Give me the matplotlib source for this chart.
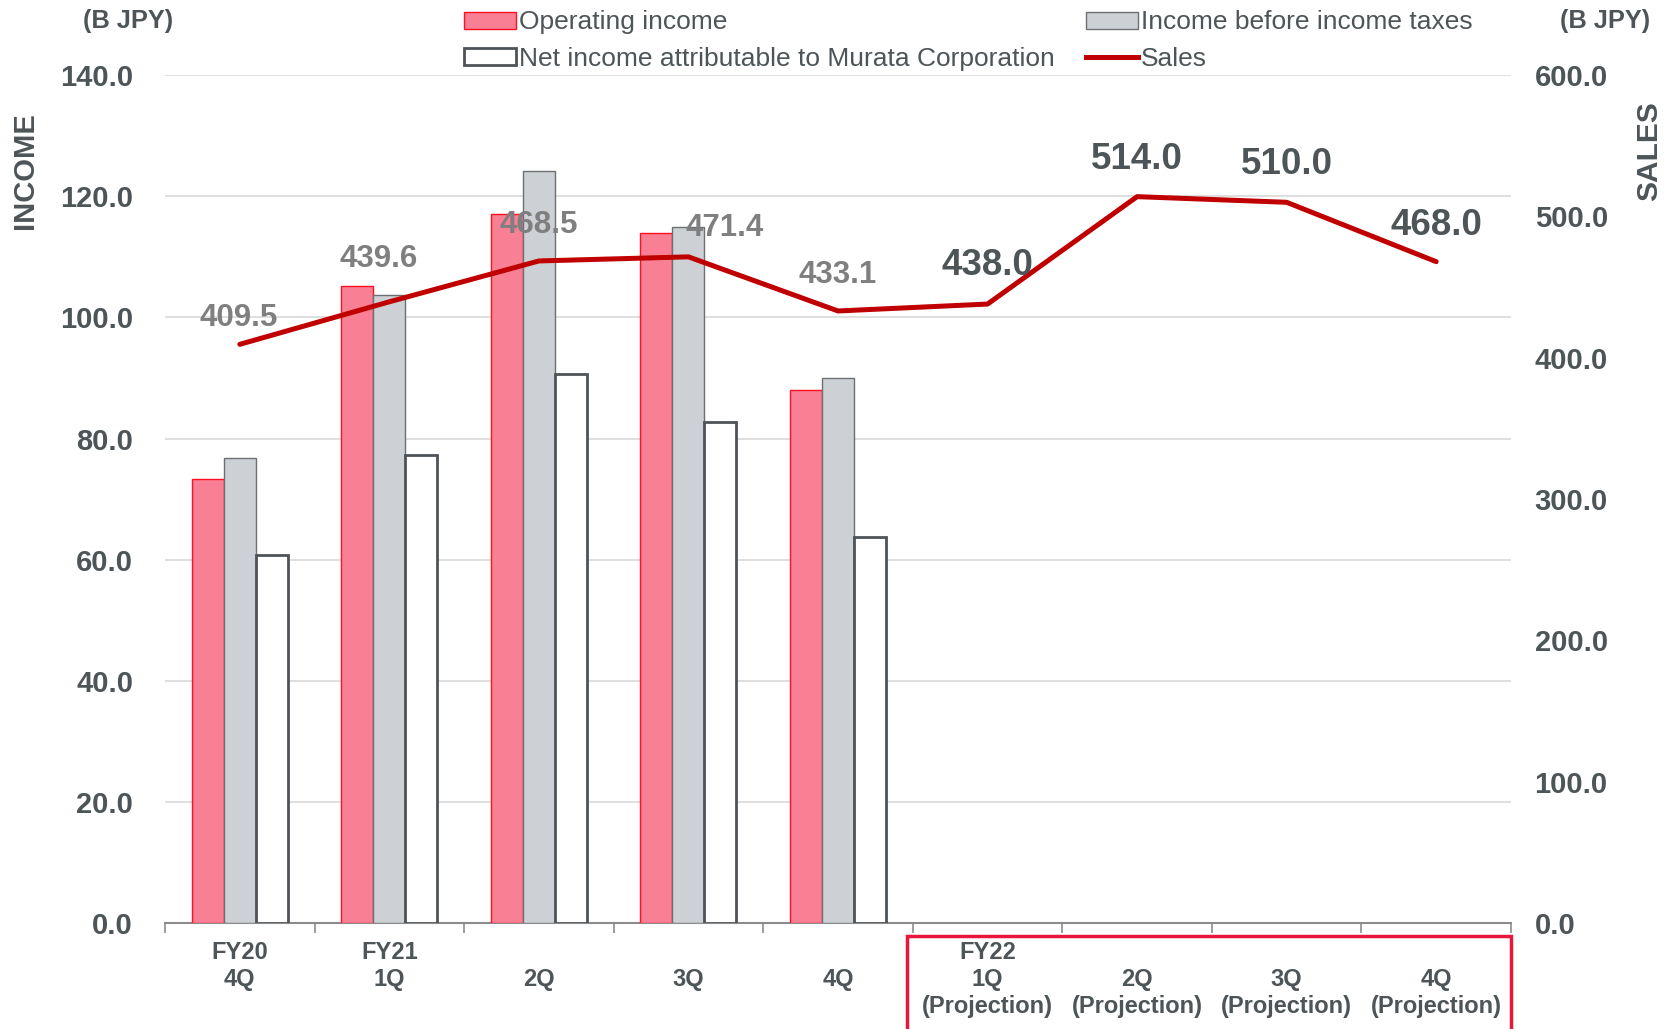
import matplotlib
matplotlib.use("Agg")
import matplotlib.pyplot as plt
import numpy as np
from matplotlib.patches import Rectangle
from matplotlib.lines import Line2D
from matplotlib.transforms import blended_transform_factory

plt.rcParams['font.family'] = ['Liberation Sans', 'DejaVu Sans']

# data
categories = ["FY20\n4Q", "FY21\n1Q", "\n2Q", "\n3Q", "\n4Q",
              "FY22\n1Q\n(Projection)", "\n2Q\n(Projection)",
              "\n3Q\n(Projection)", "\n4Q\n(Projection)"]
operating_income = [73.3, 105.1, 117.1, 113.9, 88.0]
income_before_tax = [76.8, 103.7, 124.1, 115.0, 90.0]
net_income = [60.8, 77.3, 90.7, 82.8, 63.7]
sales = [409.5, 439.6, 468.5, 471.4, 433.1, 438.0, 514.0, 510.0, 468.0]
n_actual = 5

TXT = '#4D5558'
fig = plt.figure(figsize=(16.74, 10.29), dpi=100)
ax = fig.add_axes([0.0986, 0.103, 0.8040, 0.824])
ax2 = ax.twinx()

x = np.arange(len(categories))
xa = np.arange(len(operating_income))
w = 0.214

ax.bar(xa - w, operating_income, w, color='#F98094', edgecolor='#FF1020', linewidth=1.0, zorder=3)
ax.bar(xa, income_before_tax, w, color='#CDD1D5', edgecolor='#6B7075', linewidth=1.0, zorder=3)
ax.bar(xa + w, net_income, w, color='white', edgecolor='#4D5358', linewidth=2.0, zorder=3)

ax.set_ylim(0, 140)
ax.set_xlim(-0.5, len(categories) - 0.5)
ax.set_yticks(np.arange(0, 141, 20))
ax.set_yticklabels([f"{v:.1f}" for v in np.arange(0, 141, 20)])
ax.yaxis.grid(True, color='#D9D9D9', linewidth=1.2, zorder=0)
ax.set_axisbelow(True)
ax.tick_params(axis='y', length=0, pad=23, labelsize=21, labelcolor=TXT)
for lab in ax.get_yticklabels():
    lab.set_fontweight('bold')

ax.set_xticks(x)
ax.set_xticklabels(categories, fontsize=17, fontweight='bold', color=TXT, linespacing=1.22)
ax.set_xticks(np.arange(-0.5, len(categories), 1), minor=True)
ax.tick_params(axis='x', which='major', length=0, pad=13)
ax.tick_params(axis='x', which='minor', length=7, width=1.2, color='#8C8C8C')

for s in ['left', 'right', 'top']:
    ax.spines[s].set_visible(False)
    ax2.spines[s].set_visible(False)
ax.spines['bottom'].set_color('#8C8C8C')
ax.spines['bottom'].set_linewidth(1.5)
ax2.spines['bottom'].set_visible(False)

# sales line
ax2.plot(x, sales, color='#C00000', linewidth=3.6, zorder=5, solid_capstyle='round')
ax2.set_ylim(0, 600)
ax2.set_yticks(np.arange(0, 601, 100))
ax2.set_yticklabels([f"{v:.1f}" for v in np.arange(0, 601, 100)])
ax2.tick_params(axis='y', length=0, pad=17, labelsize=21, labelcolor=TXT)
for lab in ax2.get_yticklabels():
    lab.set_fontweight('bold')

# value labels (offsets in points)
label_offsets = [(-1, 19), (-8, 31), (0, 26), (26, 21), (0, 26), (0, 28), (0, 27), (0, 27), (0, 26)]
for i, v in enumerate(sales):
    dx, dy = label_offsets[i]
    if i < n_actual:
        col, fs = '#7F7F7F', 22.5
    else:
        col, fs = TXT, 26.5
    ax2.annotate(f"{v:.1f}", (x[i], v), xytext=(dx, dy), textcoords='offset points',
                 ha='center', va='center', fontsize=fs, fontweight='bold', color=col, zorder=6)

# projection box
trans = blended_transform_factory(ax.transData, ax.transAxes)
ax.add_patch(Rectangle((4.464, -0.2), 4.036, 0.1847, transform=trans, fill=False,
                       edgecolor='#E8173D', linewidth=2.5, clip_on=False, zorder=10))

# axis titles
fig.text(0.0767, 0.980, "(B JPY)", ha='center', va='center', fontsize=18.3, fontweight='bold', color=TXT)
fig.text(0.9587, 0.980, "(B JPY)", ha='center', va='center', fontsize=18.3, fontweight='bold', color=TXT)
fig.text(0.015, 0.834, "INCOME", ha='center', va='center', rotation=90, fontsize=21, fontweight='bold', color=TXT)
fig.text(0.985, 0.853, "SALES", ha='center', va='center', rotation=90, fontsize=21.5, fontweight='bold', color=TXT)

# legend
handles = [
    Rectangle((0, 0), 1, 1, facecolor='#F98094', edgecolor='#FF1020', linewidth=1.0),
    Rectangle((0, 0), 1, 1, facecolor='white', edgecolor='#4D5358', linewidth=2.0),
    Rectangle((0, 0), 1, 1, facecolor='#CDD1D5', edgecolor='#6B7075', linewidth=1.0),
    Line2D([0], [0], color='#C00000', linewidth=3.6),
]
labels = ["Operating income", "Net income attributable to Murata Corporation",
          "Income before income taxes", "Sales"]
leg = fig.legend(handles, labels, ncol=2, loc='center left', bbox_to_anchor=(0.269, 0.9605),
                 frameon=False, fontsize=19, handlelength=2.0, handleheight=0.6,
                 handletextpad=0.1, columnspacing=1.17, labelspacing=0.47, borderpad=0)
for t in leg.get_texts():
    t.set_color(TXT)

fig.savefig("out.png", dpi=100)
